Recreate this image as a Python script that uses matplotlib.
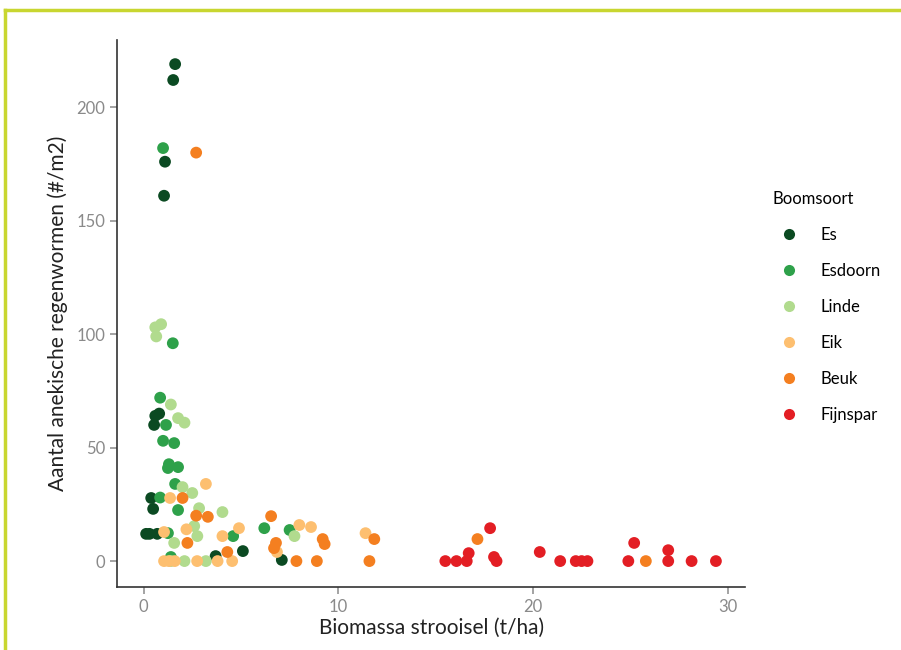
import numpy as np
import matplotlib.pyplot as plt
from matplotlib.lines import Line2D

plt.rcParams['font.family'] = ['Lato', 'DejaVu Sans']

soorten = ['Es', 'Esdoorn', 'Linde', 'Eik', 'Beuk', 'Fijnspar']
kleuren = ['#0b4a22', '#2ea14a', '#b1db8e', '#fdbf70', '#f47f20', '#e31e24']

# biomassa strooisel (t/ha), aantal regenwormen (#/m2)
es_x = [1.62, 1.52, 1.1, 1.05, 0.6, 0.8, 0.54, 0.39, 0.49, 0.13, 0.3, 0.7, 3.7, 5.1, 7.1]
es_y = [219, 212, 176, 161, 64, 65, 60, 27.8, 23, 12, 12, 12, 2.2, 4.4, 0.5]

esdoorn_x = [1.0, 1.5, 0.85, 1.15, 1.0, 1.57, 1.3, 1.25, 1.77, 1.62, 0.85, 1.77,
             1.25, 4.6, 1.4, 6.2, 7.5]
esdoorn_y = [182, 96, 72, 60, 53, 52, 42.7, 41, 41.4, 34, 28, 22.5, 12.3, 11, 1.8,
             14.5, 13.7]

linde_x = [0.9, 0.6, 0.65, 1.4, 1.77, 2.1, 2.0, 2.5, 2.85, 4.05, 2.6, 2.76, 1.57,
           2.1, 3.2, 7.75, 1.4]
linde_y = [104.4, 103, 99, 69, 63, 61, 32.6, 30, 23.3, 21.6, 15.4, 11, 8, 0, 0,
           11, 0]

eik_x = [3.2, 1.36, 2.2, 1.05, 4.05, 4.9, 1.05, 1.6, 2.75, 3.8, 4.55, 8.0, 8.6,
         6.85, 11.4, 1.3]
eik_y = [34, 27.8, 14, 12.8, 11, 14.5, 0, 0, 0, 0, 0, 15.9, 15, 4, 12.3, 0]

beuk_x = [2.7, 2.0, 2.7, 3.3, 2.25, 4.3, 6.55, 6.8, 6.7, 9.2, 9.3, 7.85, 8.9,
          11.85, 11.6, 17.15, 25.8]
beuk_y = [180, 27.8, 20, 19.5, 8, 4, 19.8, 8, 5.7, 9.7, 7.5, 0, 0, 9.7, 0, 9.7, 0]

fijnspar_x = [15.5, 16.07, 16.6, 16.7, 17.8, 18.0, 18.13, 20.35, 21.4, 22.2, 22.5,
              22.8, 24.9, 25.2, 26.95, 26.95, 28.15, 29.4]
fijnspar_y = [0, 0, 0, 3.5, 14.5, 1.8, 0, 4, 0, 0, 0, 0, 0, 8, 4.8, 0, 0, 0]

data_x = [es_x, esdoorn_x, linde_x, eik_x, beuk_x, fijnspar_x]
data_y = [es_y, esdoorn_y, linde_y, eik_y, beuk_y, fijnspar_y]

fig = plt.figure(figsize=(9.01, 6.5), dpi=100)
ax = fig.add_axes([0.13, 0.097, 0.697, 0.841])

for naam, kleur, xs, ys in zip(soorten, kleuren, data_x, data_y):
    ax.scatter(xs, ys, s=72, color=kleur, edgecolors='none', label=naam, zorder=3)

ax.set_xlim(-1.36, 30.9)
ax.set_ylim(-11.4, 229.5)
ax.set_xticks([0, 10, 20, 30])
ax.set_yticks([0, 50, 100, 150, 200])
for s in ['top', 'right']:
    ax.spines[s].set_visible(False)
for s in ['left', 'bottom']:
    ax.spines[s].set_color('#333333')
    ax.spines[s].set_linewidth(1.2)
ax.tick_params(axis='both', colors='#8a8a8a', labelsize=12, length=5, width=1.1,
               labelcolor='#8a8a8a')
ax.set_xlabel('Biomassa strooisel (t/ha)', fontsize=15, color='#222222', labelpad=2)
ax.set_ylabel('Aantal anekische regenwormen (#/m2)', fontsize=15, color='#222222')
ax.yaxis.set_label_coords(-0.078, 0.5)

handles = [Line2D([], [], marker='o', linestyle='none', markersize=8,
                  markerfacecolor=k, markeredgecolor='none') for k in kleuren]
leg = fig.legend(handles, soorten, title='Boomsoort', loc='upper left',
                 bbox_to_anchor=(0.85, 0.716), frameon=False, fontsize=12,
                 title_fontsize=12, labelspacing=1.2, handletextpad=0.9,
                 borderaxespad=0)
leg._legend_box.align = 'left'

# kader
fig.add_artist(Line2D([0.006, 1.0], [0.985, 0.985], color='#c8d630', linewidth=2.5,
                      transform=fig.transFigure))
fig.add_artist(Line2D([0.006, 0.006], [0.0, 0.985], color='#c8d630', linewidth=2.5,
                      transform=fig.transFigure))

fig.savefig('out.png', dpi=100)
